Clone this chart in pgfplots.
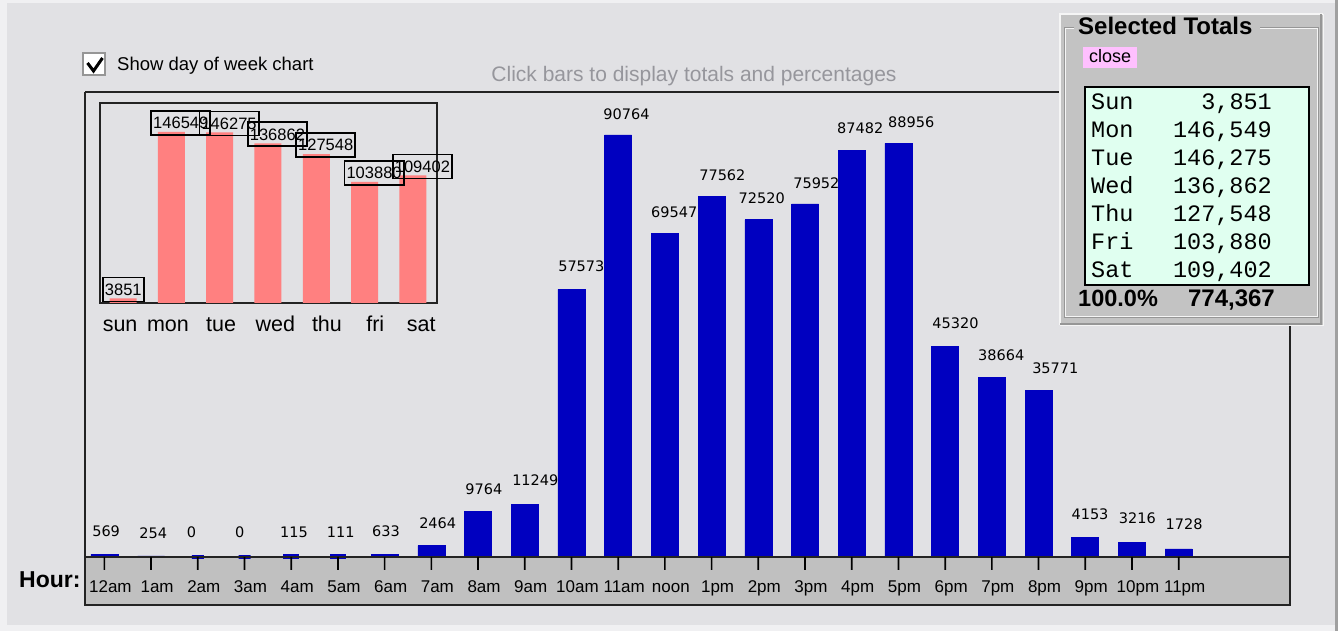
\documentclass[border=0pt]{standalone}
\usepackage{pgfplots}
\usepackage{pgfplotstable}
\pgfplotsset{compat=1.18}
\usepackage{fontspec}
\setmainfont{Liberation Sans}
\newfontfamily\dejavu{DejaVu Sans}
\newfontfamily\mono{Liberation Mono}
\definecolor{bg}{RGB}{225,225,228}
\definecolor{outerlight}{RGB}{240,240,242}
\definecolor{outerdark}{RGB}{160,160,160}
\definecolor{bandgray}{RGB}{192,192,192}
\definecolor{barblue}{RGB}{0,0,192}
\definecolor{pinkbar}{RGB}{255,128,128}
\definecolor{panel}{RGB}{195,195,195}
\definecolor{mint}{RGB}{224,255,240}
\definecolor{closepink}{RGB}{255,192,255}
\definecolor{graytext}{RGB}{150,150,156}
\definecolor{framec}{RGB}{35,35,35}
\definecolor{edgelight}{RGB}{245,245,245}
\definecolor{edgedark}{RGB}{150,150,150}

\pgfplotstableread{
x y dx dy
0 569 -12.4 17.7
1 254 -12 17.5
6 633 -12.7 17.4
7 2464 -12.4 17.2
8 9764 -13 17.3
9 11249 -12.8 18.7
10 57573 -13.5 17.3
11 90764 -15 15
12 69547 -14 15.6
13 77562 -12.6 16.3
14 72520 -20 15.8
15 75952 -12 15.8
16 87482 -14.8 16.2
17 88956 -10.5 15.4
18 45320 -13 17.3
19 38664 -14 17.2
20 35771 -6.6 16.7
21 4153 -14 17.7
22 3216 -13.4 18.7
23 1728 -13.3 19
}\hourwide

\pgfplotstableread{
x y dx dy
2 0 -13 19
3 0 -11.5 19
4 115 -13 18.5
5 111 -13 18.5
}\hournarrow

% hour tick marks (drawn in a thin strip axis under the axis line)
\pgfplotstableread{
x y
0 1
1 1
2 1
3 1
4 1
5 1
6 1
7 1
8 1
9 1
10 1
11 1
12 1
13 1
14 1
15 1
16 1
17 1
18 1
19 1
20 1
21 1
22 1
23 1
}\tickdata

\pgfplotstableread{
x y
0 3851
1 146549
2 146275
3 136862
4 127548
5 103880
6 109402
}\daydata

\begin{document}
\begin{tikzpicture}[x=1pt,y=1pt]
\useasboundingbox (0,0) rectangle (1338,631);
% background
\fill[bg] (0,0) rectangle (1338,631);
\fill[outerlight] (0,0) rectangle (7,631);
\fill[outerlight] (0,0) rectangle (1338,6);
\fill[outerlight] (0,628) rectangle (1338,631);
\fill[outerdark] (1334.5,0) rectangle (1338,631);
% gray band
\fill[bandgray] (85,26) rectangle (1290,74);

% checkbox and texts
\filldraw[fill=white, draw=edgedark, line width=1.5pt] (83,556) rectangle (105,578);
\draw[line width=3pt, line join=miter] (87.5,568) -- (93.5,560) -- (102.5,573);
\node[anchor=base west, inner sep=0pt, font=\fontsize{18.5}{18.5}\selectfont] at (117,560) {Show day of week chart};
\node[anchor=base, inner sep=0pt, text=graytext, font=\fontsize{21}{21}\selectfont] at (694,549) {Click bars to display totals and percentages};
\node[anchor=base west, inner sep=0pt, font=\bfseries\fontsize{23}{23}\selectfont] at (19,43) {Hour:};

% main hourly chart
\begin{axis}[
  at={(85pt,74pt)}, anchor=south west,
  scale only axis, width=1205pt, height=465pt,
  xmin=-0.415, xmax=25.383, ymin=0, ymax=100000,
  axis line style={draw=none},
  xtick={0,...,23},
  xticklabels={12am,1am,2am,3am,4am,5am,6am,7am,8am,9am,10am,11am,noon,1pm,2pm,3pm,4pm,5pm,6pm,7pm,8pm,9pm,10pm,11pm},
  xtick pos=bottom, xtick align=outside, major tick length=13pt,
  xtick style={draw=none},
  xticklabel style={font=\fontsize{17}{17}\selectfont, anchor=base, xshift=6pt, yshift=-23pt, inner sep=0pt},
  ytick=\empty,
  clip=false,
]
\addplot[ybar, bar shift=0pt, bar width=27pt, fill=barblue, draw=barblue, line width=0.6pt,
  point meta=explicit symbolic,
  visualization depends on={\thisrow{dx} \as \dx},
  visualization depends on={\thisrow{dy} \as \dy},
  nodes near coords,
  every node near coord/.append style={anchor=base west, xshift=\dx pt, yshift=\dy pt,
     font=\dejavu\fontsize{14.5}{14.5}\selectfont, text=black, inner sep=0pt},
] table[x=x, y=y, meta=y] {\hourwide};
\addplot[ybar, bar shift=0pt, bar width=12pt, fill=barblue, draw=barblue, line width=4pt,
  point meta=explicit symbolic,
  visualization depends on={\thisrow{dx} \as \dx},
  visualization depends on={\thisrow{dy} \as \dy},
  nodes near coords,
  every node near coord/.append style={anchor=base west, xshift=\dx pt, yshift=\dy pt,
     font=\dejavu\fontsize{14.5}{14.5}\selectfont, text=black, inner sep=0pt},
] table[x=x, y=y, meta=y] {\hournarrow};
\end{axis}

% inset day of week chart
\begin{axis}[
  at={(100pt,328pt)}, anchor=south west,
  scale only axis, width=337pt, height=200pt,
  xmin=-0.476, xmax=6.497, ymin=0, ymax=171400,
  axis line style={line width=2pt, draw=framec},
  xtick={-0.06,0.93,2.03,3.15,4.22,5.22,6.17},
  xticklabels={sun,mon,tue,wed,thu,fri,sat},
  major tick length=0pt, ytick=\empty,
  xticklabel style={font=\fontsize{21.5}{21.5}\selectfont, anchor=base, yshift=-29pt, inner sep=0pt},
  clip=false,
]
\addplot[ybar, bar shift=0pt, bar width=27pt, fill=pinkbar, draw=none,
  point meta=explicit symbolic,
  nodes near coords,
  every node near coord/.append style={anchor=south west, xshift=-21pt, yshift=-4pt,
     draw=black, line width=1.8pt, inner xsep=2pt, inner ysep=0pt, minimum height=24pt,
     font=\fontsize{16.5}{16.5}\selectfont, text=black},
] table[x=x, y=y, meta=y] {\daydata};
\end{axis}

% frame of main chart
\draw[framec, line width=2pt] (85,539) -- (1062,539);
\draw[framec, line width=2pt] (85,539) -- (85,26) -- (1290,26) -- (1290,306);
\draw[framec, line width=2pt] (85,74) -- (1290,74);

% tick marks strip (same x scale as the hourly chart)
\begin{axis}[
  at={(85pt,61pt)}, anchor=south west,
  scale only axis, width=1205pt, height=13pt,
  xmin=-0.415, xmax=25.383, ymin=0, ymax=1,
  hide axis, clip=false,
]
\addplot[ybar, bar shift=0pt, bar width=1.7pt, fill=black, draw=none] table[x=x, y=y] {\tickdata};
\end{axis}

% Selected Totals panel
\fill[panel] (1060,306) rectangle (1323,617);
\draw[edgelight, line width=1.5pt] (1060,306) -- (1060,617) -- (1323,617);
\draw[edgedark, line width=1.5pt] (1321,617) -- (1321,307) -- (1060,307);
\draw[edgelight, line width=1pt] (1323.5,617) -- (1323.5,305) -- (1060,305);
\draw[edgedark, line width=1pt] (1074,603) -- (1064,603) -- (1064,313) -- (1318,313) -- (1318,603) -- (1260,603);
\draw[edgelight, line width=1pt] (1074,602) -- (1065,602) -- (1065,314) -- (1317,314) -- (1317,602) -- (1260,602);
\node[anchor=base west, inner sep=0pt, font=\bfseries\fontsize{24}{24}\selectfont] at (1078,596) {Selected Totals};
\fill[closepink] (1083,563) rectangle (1137,584);
\node[anchor=base, inner sep=0pt, font=\fontsize{18}{18}\selectfont] at (1110,568) {close};
\filldraw[fill=mint, draw=black, line width=1.5pt] (1085,346) rectangle (1309,544);
\foreach \d/\v [count=\i from 0] in {Sun/{3,851},Mon/{146,549},Tue/{146,275},Wed/{136,862},Thu/{127,548},Fri/{103,880},Sat/{109,402}} {
  \node[anchor=base west, inner sep=0pt, font=\mono\fontsize{23.5}{23.5}\selectfont] at (1091,521-28*\i) {\d};
  \node[anchor=base east, inner sep=0pt, font=\mono\fontsize{23.5}{23.5}\selectfont] at (1272,521-28*\i) {\v};
}
\node[anchor=base west, inner sep=0pt, font=\bfseries\fontsize{23.5}{23.5}\selectfont] at (1078,324) {100.0\%};
\node[anchor=base east, inner sep=0pt, font=\bfseries\fontsize{24}{24}\selectfont] at (1275,324) {774,367};
\end{tikzpicture}
\end{document}
